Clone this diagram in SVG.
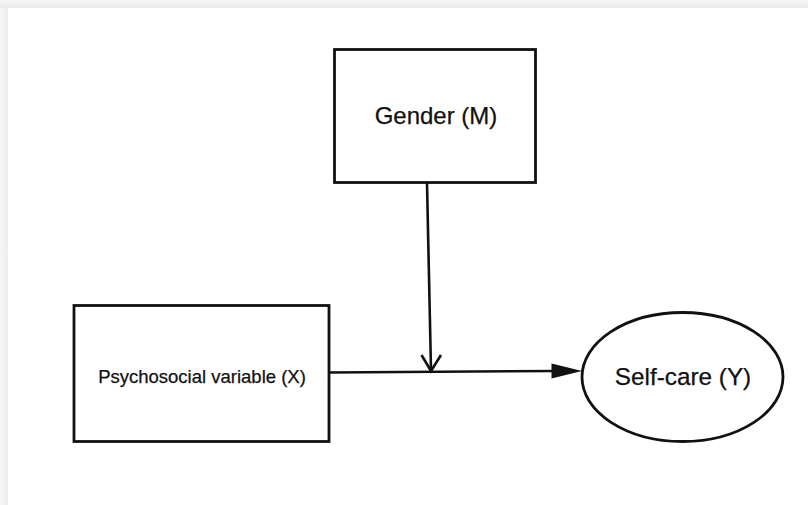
<svg xmlns="http://www.w3.org/2000/svg" width="808" height="505" viewBox="0 0 808 505">
  <defs>
    <linearGradient id="edgeTop" x1="0" y1="0" x2="0" y2="1">
      <stop offset="0" stop-color="#f6f6f6"/>
      <stop offset="1" stop-color="#e9e9e9"/>
    </linearGradient>
    <linearGradient id="edgeLeft" x1="0" y1="0" x2="1" y2="0">
      <stop offset="0" stop-color="#f7f7f7"/>
      <stop offset="1" stop-color="#ededed"/>
    </linearGradient>
  </defs>
  <style>
    .node { fill: #ffffff; stroke: #111111; stroke-width: 2.8; }
    .label { font-family: "Liberation Sans", Arial, sans-serif; fill: #111111; stroke: #111111; stroke-width: 0.25; text-anchor: middle; }
    .edge { fill: none; stroke: #111111; stroke-width: 2.6; }
    .head { fill: #111111; stroke: none; }
  </style>

  <!-- page with a soft frame along the top and left edges -->
  <rect x="0" y="0" width="808" height="505" fill="#ffffff"/>
  <rect x="0" y="0" width="8" height="505" fill="url(#edgeLeft)"/>
  <rect x="0" y="0" width="808" height="8" fill="url(#edgeTop)"/>

  <g id="gender">
    <rect class="node" x="334.5" y="49.5" width="201" height="133"/>
    <text class="label" x="436" y="124" font-size="24">Gender (M)</text>
  </g>

  <g id="psychosocial">
    <rect class="node" x="74" y="305.5" width="255" height="136"/>
    <text class="label" x="202" y="383" font-size="18.5">Psychosocial variable (X)</text>
  </g>

  <g id="selfcare">
    <ellipse class="node" cx="682.5" cy="377" rx="100.5" ry="64.5"/>
    <text class="label" x="683" y="385" font-size="24.3">Self-care (Y)</text>
  </g>

  <g id="connectors">
    <!-- moderator path: gender onto the X to Y link -->
    <path class="edge" d="M427 183 L431 370"/>
    <path class="edge" d="M421.5 355 L431 371 L441 355"/>
    <!-- main effect: X to Y -->
    <path class="edge" d="M329 372.5 L556 371"/>
    <path class="head" d="M551.5 363.5 L582 371 L551.5 378.5 Z"/>
  </g>
</svg>
